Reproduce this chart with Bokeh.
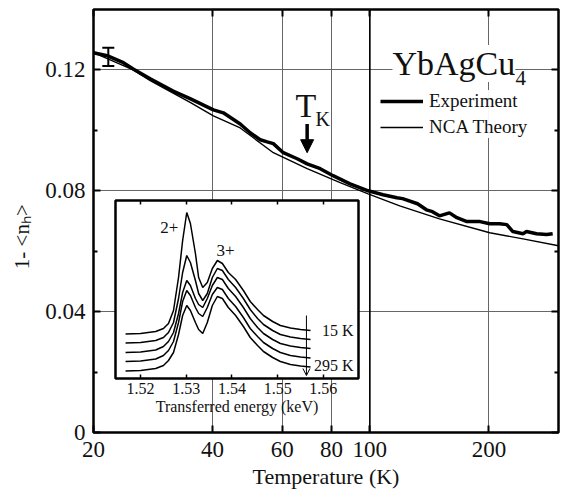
from bokeh.plotting import figure
from bokeh.layouts import column
from bokeh.models import (Label, Legend, LegendItem, Whisker, TeeHead, Arrow, NormalHead,
                          OpenHead, FixedTicker, LinearAxis, LogAxis, Span, ColumnDataSource,
                          CustomLabelingPolicy)
from bokeh.embed import file_html
from bokeh.resources import INLINE

# ---------------- main panel data ----------------
exp_T = [20, 21.8, 23.8, 25.2, 27.9, 31.8, 35.2, 40.2, 42.6, 47.0, 49.8, 52.8, 55.0, 57.0,
         60.4, 65.5, 69.4, 74.9, 80.7, 89.1, 99, 108, 117, 121, 132, 139, 144, 150, 159,
         166, 176, 190, 201, 213, 222, 230, 244, 249, 264, 280, 290]
exp_y = [0.1257, 0.1246, 0.1224, 0.1203, 0.1170, 0.1130, 0.1104, 0.1068, 0.1058, 0.1021,
         0.0992, 0.0969, 0.0962, 0.0956, 0.0926, 0.0906, 0.0889, 0.0873, 0.0850, 0.0823,
         0.0800, 0.0787, 0.0777, 0.0774, 0.0757, 0.0737, 0.0731, 0.0717, 0.0727, 0.0711,
         0.0698, 0.0698, 0.0691, 0.0691, 0.0688, 0.0665, 0.0658, 0.0665, 0.0658, 0.0655, 0.0658]
nca_T = [20, 25.2, 27.9, 35.2, 40.2, 47.0, 57.0, 69.4, 84.1, 99, 119, 150, 201, 244, 300]
nca_y = [0.1257, 0.1200, 0.1164, 0.1092, 0.1048, 0.1008, 0.0926, 0.0873, 0.0827, 0.0790,
         0.0750, 0.0707, 0.0661, 0.0641, 0.0618]
err_T = [21.8]
err_lo = [0.1213]
err_hi = [0.1273]
tk_T = 69.4
tk_y_start = 0.1038
tk_y_end = 0.0926

x_ticks = [20, 40, 60, 80, 100, 200]
x_tick_labels = ["20", "40", "60", "80", "100", "200"]
y_ticks = [0, 0.04, 0.08, 0.12]
y_tick_labels = ["0", "0.04", "0.08", "0.12"]
y_minor = [0.02, 0.06, 0.10]

# ---------------- inset data ----------------
energy = [1.5167, 1.5200, 1.5233, 1.5250, 1.5261, 1.5272, 1.5283, 1.5292, 1.5301, 1.5309,
          1.5320, 1.5327, 1.5336, 1.5346, 1.5357, 1.5368, 1.5379, 1.5392, 1.5408, 1.5425,
          1.5440, 1.5456, 1.5469, 1.5489, 1.5506, 1.5528, 1.5550, 1.5572]
spec_15K = [44.5, 45, 47, 50, 55, 68, 101, 138, 166, 155, 125, 101, 91, 96, 110, 118, 115,
            106, 99, 88, 77, 69, 63, 57, 53, 50.5, 49, 48]
spec_b = [35.4, 36, 38, 41, 46, 56, 80, 106, 123, 116, 98, 85, 78, 85, 101, 110, 108, 99, 91,
          80, 69, 60, 54, 48, 44, 41.5, 40, 39]
spec_c = [26, 26.5, 28.5, 32, 37, 46, 65, 86, 98, 93, 80, 74, 71, 80, 93, 101, 99, 90, 82, 71,
          60, 51, 45, 39, 35, 32.5, 31, 30]
spec_d = [17, 17.5, 19.5, 23, 28, 37, 56, 77, 88, 83, 71, 65, 62, 71, 84, 91, 89, 80, 72, 61,
          50, 42, 36, 30, 26, 23, 21.5, 20.5]
spec_295K = [7.5, 8, 10, 13, 18, 26, 44, 63, 73, 68, 56, 49, 45, 56, 73, 82, 80, 71, 63, 52,
             41, 33, 27, 21, 17, 14, 12.5, 11.5]
spectra = [spec_15K, spec_b, spec_c, spec_d, spec_295K]
e_ticks = [1.52, 1.53, 1.54, 1.55, 1.56]
e_tick_labels = ["1.52", "1.53", "1.54", "1.55", "1.56"]

FONT = "Liberation Serif"
INK = "#111111"

def no_labels():
    return CustomLabelingPolicy(code="for (const i of indices) { if (false) yield i }")

# ---------------- main figure ----------------
p = figure(width=565, height=498, x_axis_type="log", x_range=(20, 300), y_range=(0, 0.14),
           output_backend="svg", toolbar_location=None,
           min_border_left=93, min_border_right=7, min_border_top=9, min_border_bottom=66)
p.outline_line_color = "black"
p.outline_line_width = 2.5
p.background_fill_color = "white"
p.border_fill_color = "white"

xt = FixedTicker(ticks=x_ticks)
yt = FixedTicker(ticks=y_ticks, minor_ticks=y_minor)

bottom_ax = p.below[0]
left_ax = p.left[0]
bottom_ax.ticker = xt
bottom_ax.major_label_overrides = {t: l for t, l in zip(x_ticks, x_tick_labels)}
bottom_ax.axis_label = "Temperature (K)"
left_ax.ticker = yt
left_ax.major_label_overrides = {t: l for t, l in zip(y_ticks, y_tick_labels)}
left_ax.axis_label = "1- <nₕ>" + "\u00a0" * 6

top_ax = LogAxis(ticker=xt)
right_ax = LinearAxis(ticker=yt)
p.add_layout(top_ax, "above")
p.add_layout(right_ax, "right")

for ax in [bottom_ax, left_ax, top_ax, right_ax]:
    ax.axis_line_color = None
    ax.major_tick_in = 7
    ax.major_tick_out = 0
    ax.minor_tick_in = 4
    ax.minor_tick_out = 0
    ax.major_tick_line_width = 2
    ax.minor_tick_line_width = 2
    ax.major_tick_line_color = "black"
    ax.minor_tick_line_color = "black"
    ax.major_label_text_font = FONT
    ax.major_label_text_font_size = "23px"
    ax.major_label_text_color = INK
    ax.major_label_standoff = 8
    ax.axis_label_text_font = FONT
    ax.axis_label_text_font_size = "22px"
    ax.axis_label_text_font_style = "normal"
    ax.axis_label_text_color = INK
    ax.axis_label_standoff = 4
bottom_ax.major_label_standoff = 9
left_ax.axis_label_text_font_size = "21px"
left_ax.axis_label_standoff = 8
for ax in [top_ax, right_ax]:
    ax.major_label_policy = no_labels()
    ax.major_label_text_font_size = "0px"
    ax.major_label_standoff = 0

p.xgrid.ticker = xt
p.ygrid.ticker = yt
p.grid.grid_line_color = "#666666"
p.grid.grid_line_width = 1

p.add_layout(Span(location=x_ticks[4], dimension="height", line_color="black", line_width=1.6))

r_exp = p.line(exp_T, exp_y, line_color="black", line_width=3.5)
r_nca = p.line(nca_T, nca_y, line_color="black", line_width=1.4)

err_src = ColumnDataSource(dict(base=err_T, lower=err_lo, upper=err_hi))
p.add_layout(Whisker(source=err_src, base="base", lower="lower", upper="upper",
                     dimension="height", line_width=2, line_color="black",
                     upper_head=TeeHead(size=12, line_width=2, line_color="black"),
                     lower_head=TeeHead(size=12, line_width=2, line_color="black")))

p.add_layout(Arrow(x_start=tk_T, y_start=tk_y_start, x_end=tk_T, y_end=tk_y_end,
                   line_width=3.5, line_color="black",
                   end=NormalHead(size=13, fill_color="black", line_color="black", line_width=1)))

def lab(text, x, y, size, **kw):
    p.add_layout(Label(text=text, x=x, y=y, x_units="screen", y_units="screen",
                       text_font=FONT, text_font_size=size, text_color=INK,
                       text_baseline="alphabetic", **kw))

lab("T", 202, 327, "34px", background_fill_color="white")
lab("K", 222, 314, "20px", background_fill_color="white")
lab("YbAgCu", 299, 369, "34px", background_fill_color="white")
lab("4", 422, 355, "21px")

legend = Legend(items=[LegendItem(label="Experiment", renderers=[r_exp]),
                       LegendItem(label="NCA Theory", renderers=[r_nca])],
                location=(287, 294), label_text_font=FONT, label_text_font_size="19px",
                glyph_width=43, glyph_height=20, label_height=20, spacing=4, padding=4,
                margin=0, border_line_color=None, background_fill_color="white",
                label_standoff=6, label_text_color=INK)
p.add_layout(legend)

# ---------------- inset figure ----------------
ins = figure(width=343, height=222, x_range=(1.5145, 1.5677), y_range=(0, 178),
             output_backend="svg", toolbar_location=None, y_axis_location=None,
             min_border_left=93, min_border_right=7, min_border_top=2, min_border_bottom=42)
ins.outline_line_color = "black"
ins.outline_line_width = 2.5
ins.grid.visible = False
ins.background_fill_color = "white"
ins.border_fill_color = None
et = FixedTicker(ticks=e_ticks)
ins_bottom = ins.below[0]
ins_bottom.ticker = et
ins_bottom.major_label_overrides = {t: l for t, l in zip(e_ticks, e_tick_labels)}
ins_bottom.axis_label = "Transferred energy (keV)"
ins_top = LinearAxis(ticker=et)
ins.add_layout(ins_top, "above")
for ax in [ins_bottom, ins_top]:
    ax.axis_line_color = None
    ax.major_tick_in = 4
    ax.major_tick_out = 0
    ax.minor_tick_line_color = None
    ax.major_tick_line_width = 1.5
    ax.major_tick_line_color = "black"
    ax.major_label_text_font = FONT
    ax.major_label_text_font_size = "16px"
    ax.major_label_text_color = INK
    ax.major_label_standoff = 4
    ax.axis_label_text_font = FONT
    ax.axis_label_text_font_size = "16px"
    ax.axis_label_text_font_style = "normal"
    ax.axis_label_text_color = INK
    ax.axis_label_standoff = 1
ins_top.major_label_policy = no_labels()
ins_top.major_label_text_font_size = "0px"
ins_top.major_label_standoff = 0

for s in spectra:
    ins.line(energy, s, line_color="black", line_width=1.5)

ins.add_layout(Arrow(x_start=1.5563, y_start=63, x_end=1.5563, y_end=3, line_width=1,
                     line_color="black", end=OpenHead(size=7, line_width=1, line_color="black")))

def ilab(text, x, y, size, align):
    ins.add_layout(Label(text=text, x=x, y=y, text_font=FONT, text_font_size=size,
                         text_align=align, text_baseline="middle", text_color=INK))

ilab("2+", 1.5263, 151, "17px", "center")
ilab("3+", 1.5386, 128, "17px", "center")
ilab("15 K", 1.5666, 48, "16px", "right")
ilab("295 K", 1.5666, 13, "16px", "right")

ins.margin = (-300, 0, 0, 22)

layout = column(p, ins, spacing=0)
open("out.html", "w").write(file_html(layout, INLINE))
